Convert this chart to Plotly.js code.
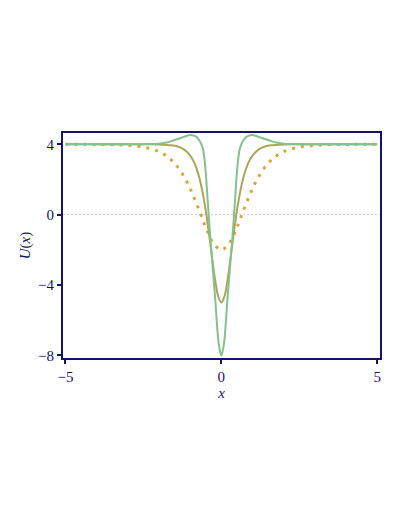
<!DOCTYPE html>
<html>
<head>
<meta charset="utf-8">
<script src="https://cdn.plot.ly/plotly-3.0.1.min.js"></script>
<style>html,body{margin:0;padding:0;background:#fff;}#chart{width:409px;height:529px;}</style>
</head>
<body>
<div id="chart"></div>
<script>
// Dotted curve
var dotX = [-5,-4.5,-4,-3.5,-3,-2.5,-2,-1.75,-1.5,-1.25,-1,-0.75,-0.5,-0.25,0,0.25,0.5,0.75,1,1.25,1.5,1.75,2,2.5,3,3.5,4,4.5,5];
var dotY = [4,4,3.99,3.98,3.94,3.84,3.58,3.32,2.92,2.32,1.48,0.42,-0.72,-1.64,-2,-1.64,-0.72,0.42,1.48,2.32,2.92,3.32,3.58,3.84,3.94,3.98,3.99,4,4];

// Olive solid curve
var oliveX = [-5,-3,-2.5,-2,-1.8,-1.6,-1.4,-1.2,-1,-0.9,-0.8,-0.7,-0.6,-0.5,-0.4,-0.3,-0.2,-0.1,0,0.1,0.2,0.3,0.4,0.5,0.6,0.7,0.8,0.9,1,1.2,1.4,1.6,1.8,2,2.5,3,5];
var oliveY = [4,4,4,3.99,3.97,3.94,3.87,3.71,3.36,3.07,2.64,2.05,1.25,0.22,-1.03,-2.4,-3.7,-4.65,-5,-4.65,-3.7,-2.4,-1.03,0.22,1.25,2.05,2.64,3.07,3.36,3.71,3.87,3.94,3.97,3.99,4,4,4];

// Green solid curve
var greenX = [-5,-3,-2.5,-2,-1.8,-1.6,-1.4,-1.2,-1.1,-1,-0.9,-0.8,-0.7,-0.6,-0.55,-0.5,-0.45,-0.4,-0.35,-0.3,-0.25,-0.2,-0.15,-0.1,-0.05,0,0.05,0.1,0.15,0.2,0.25,0.3,0.35,0.4,0.45,0.5,0.55,0.6,0.7,0.8,0.9,1,1.1,1.2,1.4,1.6,1.8,2,2.5,3,5];
var greenY = [4,4,4.005,4.03,4.08,4.18,4.3,4.42,4.48,4.52,4.5,4.42,4.2,3.8,3.3,2.4,1.1,-0.2,-1.4,-2.5,-3.6,-4.7,-6.0,-7.1,-7.7,-8,-7.7,-7.1,-6.0,-4.7,-3.6,-2.5,-1.4,-0.2,1.1,2.4,3.3,3.8,4.2,4.42,4.5,4.52,4.48,4.42,4.3,4.18,4.08,4.03,4.005,4,4];

var xTicks = [-5,0,5];
var yTicks = [-8,-4,0,4];

var navy = 'rgb(20,20,100)';
var serif = '"Times New Roman", Times, "Liberation Serif", serif';
var traces = [
  {x: dotX, y: dotY, mode: 'lines', line: {color: 'rgb(212,168,62)', width: 3, dash: '3px,6px', shape: 'spline'}, hoverinfo: 'skip'},
  {x: oliveX, y: oliveY, mode: 'lines', line: {color: 'rgb(170,166,92)', width: 2, shape: 'spline'}, hoverinfo: 'skip'},
  {x: greenX, y: greenY, mode: 'lines', line: {color: 'rgb(134,192,140)', width: 2, shape: 'spline'}, hoverinfo: 'skip'}
];

var layout = {
  width: 409, height: 529,
  margin: {l: 63, r: 29, t: 133, b: 171},
  showlegend: false,
  paper_bgcolor: '#fff', plot_bgcolor: '#fff',
  font: {family: serif, size: 15, color: navy},
  xaxis: {
    range: [-5.08, 5.09], tickvals: xTicks, ticktext: ['\u22125','0','5'],
    showgrid: false, zeroline: false, showline: true, mirror: true, linecolor: navy, linewidth: 2,
    ticks: 'outside', ticklen: 4, tickwidth: 2, tickcolor: navy,
    tickfont: {family: serif, size: 15, color: navy},
    title: {text: '<i>x</i>', font: {family: serif, size: 15, color: navy}, standoff: 0}
  },
  yaxis: {
    range: [-8.15, 4.64], tickvals: yTicks, ticktext: ['\u22128','\u22124','0','4'],
    showgrid: false, zeroline: false, showline: true, mirror: true, linecolor: navy, linewidth: 2,
    ticks: 'outside', ticklen: 4, tickwidth: 2, tickcolor: navy,
    tickfont: {family: serif, size: 15, color: navy},
    title: {text: '<i>U</i>(<i>x</i>)', font: {family: serif, size: 15, color: navy}, standoff: 4}
  },
  shapes: [
    {type: 'line', xref: 'paper', x0: 0, x1: 1, yref: 'y', y0: 0, y1: 0, layer: 'below',
     line: {color: 'rgb(205,205,225)', width: 1, dash: '2px,2px'}}
  ]
};

Plotly.newPlot('chart', traces, layout, {displayModeBar: false, staticPlot: true});
</script>
</body>
</html>
